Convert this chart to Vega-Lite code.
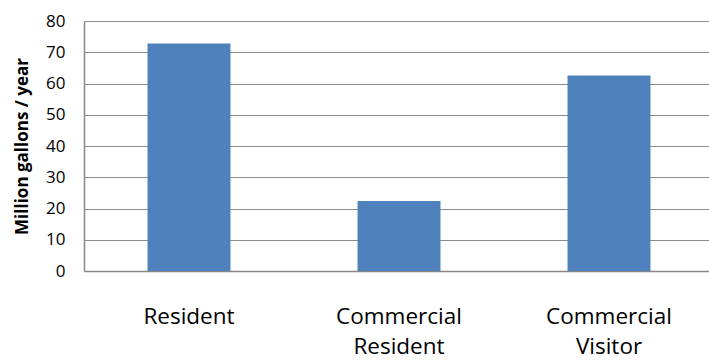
{
  "$schema": "https://vega.github.io/schema/vega-lite/v6.json",
  "width": 625,
  "height": 250,
  "autosize": {"type": "none"},
  "padding": {"left": 84, "top": 21, "right": 0, "bottom": 89},
  "background": "white",
  "config": {
    "view": {"stroke": null},
    "font": "Open Sans"
  },
  "data": {
    "values": [
      {"category": "Resident", "value": 72.8},
      {"category": "Commercial Resident", "value": 22.4},
      {"category": "Commercial Visitor", "value": 62.6}
    ]
  },
  "mark": {"type": "bar", "color": "#4F81BD"},
  "encoding": {
    "x": {
      "field": "category",
      "type": "nominal",
      "sort": null,
      "scale": {"range": [0, 630], "paddingInner": 0.605, "paddingOuter": 0.3025},
      "axis": {
        "title": null,
        "labelAngle": 0,
        "labelExpr": "split(datum.label, ' ')",
        "labelFont": "Open Sans",
        "labelFontSize": 22.5,
        "labelColor": "#000000",
        "labelLineHeight": 30,
        "labelBaseline": "top",
        "labelPadding": 34,
        "ticks": false,
        "domainColor": "#868686",
        "domainWidth": 1.5,
        "grid": false
      }
    },
    "y": {
      "field": "value",
      "type": "quantitative",
      "scale": {"domain": [0, 80]},
      "axis": {
        "title": "Million gallons / year",
        "titleFont": "Open Sans",
        "titleFontSize": 17,
        "titleFontWeight": "bold",
        "titleColor": "#000000",
        "titlePadding": 14,
        "values": [0, 10, 20, 30, 40, 50, 60, 70, 80],
        "labelFont": "Open Sans",
        "labelFontSize": 17,
        "labelColor": "#000000",
        "labelPadding": 19,
        "ticks": false,
        "domainColor": "#868686",
        "domainWidth": 1.5,
        "grid": true,
        "gridColor": "#8c8c8c",
        "gridWidth": 1
      }
    }
  }
}
